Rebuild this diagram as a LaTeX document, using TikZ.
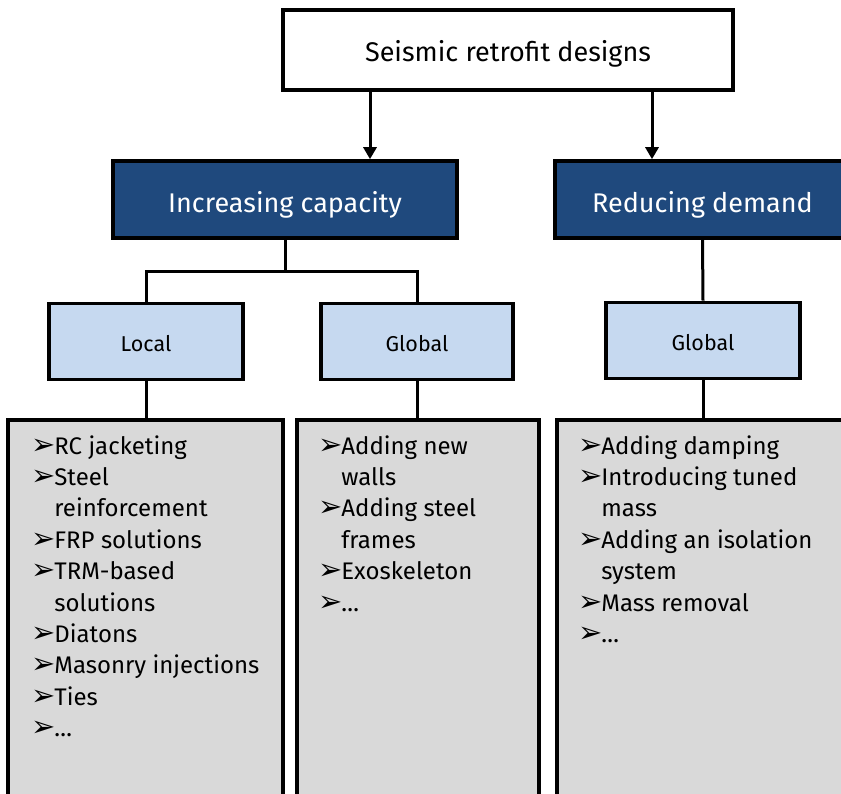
\documentclass[tikz,border=0pt]{standalone}
\usepackage{fontspec}
\setmainfont{Fira Sans}
\newfontfamily\symfont{DejaVu Sans}
\usetikzlibrary{arrows.meta, positioning, calc}
\definecolor{clrNavy}{RGB}{31,73,125}
\definecolor{clrPale}{RGB}{198,217,240}
\definecolor{clrGrey}{RGB}{217,217,217}
\newcommand{\itm}{\makebox[23pt][l]{\symfont\fontsize{29}{29}\selectfont ➢}}
\newcommand{\cnt}{\hspace*{23pt}}

\begin{document}
\begin{tikzpicture}[
  x=1pt, y=-1pt,
  box/.style={rectangle, draw=black, line width=3.6pt, inner sep=0pt,
              text centered, text depth=0pt},
  titlebox/.style={box, fill=white, minimum width=450pt, minimum height=80pt,
                   text height=23pt, font=\fontsize{27}{30}\selectfont},
  capbox/.style={box, fill=clrNavy, text=white, minimum height=77pt,
                 text height=27pt, font=\fontsize{27}{30}\selectfont},
  scopebox/.style={box, fill=clrPale, minimum height=76pt,
                   text height=20pt, font=\fontsize{21.5}{24}\selectfont},
  listbox/.style={box, fill=clrGrey, minimum height=380pt},
  listtext/.style={anchor=north west, inner sep=0pt, align=left,
                   font=\fontsize{24}{31.4}\selectfont},
  arr/.style={-{Triangle[length=12pt,width=13pt]}, line width=3pt},
  link/.style={line width=3pt}
]
\useasboundingbox (0,0) rectangle (841,794);

% top level
\node[titlebox] (title) at (508,50) {Seismic retrofit designs};

% strategies
\node[capbox, minimum width=344pt] (inccap) at (285,199.5) {Increasing capacity};
\node[capbox, minimum width=295pt] (reddem) at (702.5,199.5) {Reducing demand};

% scopes
\node[scopebox, minimum width=194pt] (loc)  at (146,341.5) {Local};
\node[scopebox, minimum width=192pt] (glc)  at (417,341.5) {Global};
\node[scopebox, minimum width=194pt] (gld)  at (703,340.5) {Global};

% measure boxes
\node[listbox, minimum width=275pt] (locbox) at (145.5,610) {};
\node[listbox, minimum width=242pt] (glcbox) at (418,610)   {};
\node[listbox, minimum width=293pt] (gldbox) at (703.5,610) {};

\node[listtext] (loclist) at ([xshift=25pt,yshift=-17pt]locbox.north west)
  {\itm RC jacketing\\
   \itm Steel\\
   \cnt reinforcement\\
   \itm FRP solutions\\
   \itm TRM-based\\
   \cnt solutions\\
   \itm Diatons\\
   \itm Masonry injections\\
   \itm Ties\\
   \itm \dots};
\node[listtext] (glclist) at ([xshift=23pt,yshift=-17pt]glcbox.north west)
  {\itm Adding new\\
   \cnt walls\\
   \itm Adding steel\\
   \cnt frames\\
   \itm Exoskeleton\\
   \itm \dots};
\node[listtext] (gldlist) at ([xshift=23pt,yshift=-17pt]gldbox.north west)
  {\itm Adding damping\\
   \itm Introducing tuned\\
   \cnt mass\\
   \itm Adding an isolation\\
   \cnt system\\
   \itm Mass removal\\
   \itm \dots};

% connectors
\draw[arr] ([xshift=-138pt]title.south) -- ([xshift=-138pt]title.south |- inccap.north);
\draw[arr] ([xshift=144pt]title.south) -- ([xshift=144pt]title.south |- reddem.north);
\draw[link] (inccap.south) -- ++(0,32) -| (loc.north);
\draw[link] (inccap.south) -- ++(0,32) -| (glc.north);
\draw[link] (reddem.south) -- (gld.north);
\draw[link] (loc.south) -- (loc.south |- locbox.north);
\draw[link] (glc.south) -- (glc.south |- glcbox.north);
\draw[link] (gld.south) -- (gld.south |- gldbox.north);

\end{tikzpicture}
\end{document}
